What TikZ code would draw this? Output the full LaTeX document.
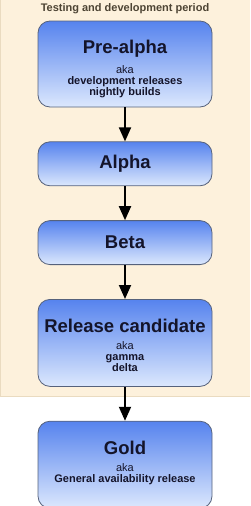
\documentclass[tikz,border=0pt]{standalone}
\usepackage{fontspec}
\setmainfont{Liberation Sans}
\usetikzlibrary{positioning,arrows.meta}
\definecolor{cream}{HTML}{FDF1DC}
\definecolor{creamline}{HTML}{EADBC0}
\definecolor{boxtop}{HTML}{5683EE}
\definecolor{boxbot}{HTML}{DCE8FD}
\definecolor{boxline}{HTML}{56627C}
\definecolor{ink}{HTML}{14142A}
\definecolor{periodtext}{HTML}{4D4434}
\newcommand{\stagefont}{\fontsize{18.5}{20}\selectfont\bfseries}
\newcommand{\notefont}{\fontsize{11}{11}\selectfont}

\begin{document}
\begin{tikzpicture}[x=1pt,y=-1pt,
 st/.style={draw=boxline,line width=0.8pt,rounded corners=12pt,top color=boxtop,bottom color=boxbot,text=ink,align=center,minimum width=174pt,inner sep=0pt,font=\notefont},
 ar/.style={-{Triangle[length=14pt,width=12pt]},line width=1.8pt,black}]
 \useasboundingbox (0,0) rectangle (250,506);
 \fill[cream] (0,0) rectangle (250,397);
 \draw[creamline,line width=0.6pt] (0.5,0) -- (0.5,396.5) -- (250,396.5);
 \node[font=\bfseries\fontsize{11}{13}\selectfont,text=periodtext] (period) at (125,9) {Testing and development period};
 \node[st,minimum height=86pt,text height=66pt,text depth=4pt] (pre) at (125,64) {{\stagefont Pre-alpha}\\[7pt]aka\\\textbf{development releases}\\\textbf{nightly builds}};
 \node[st,minimum height=44pt,below=34pt of pre] (alpha) {\stagefont Alpha};
 \node[st,minimum height=44pt,below=34pt of alpha] (beta) {\stagefont Beta};
 \node[st,minimum height=87pt,text height=62pt,text depth=4pt,below=34pt of beta] (rc) {{\stagefont Release candidate}\\[6pt]aka\\\textbf{gamma}\\\textbf{delta}};
 \node[st,minimum height=87pt,text height=40pt,text depth=4pt,below=34pt of rc] (gold) {{\stagefont Gold}\\[6pt]aka\\\textbf{General availability release}};
 \draw[ar] (pre) -- (alpha);
 \draw[ar] (alpha) -- (beta);
 \draw[ar] (beta) -- (rc);
 \draw[ar] (rc) -- (gold);
\end{tikzpicture}
\end{document}
